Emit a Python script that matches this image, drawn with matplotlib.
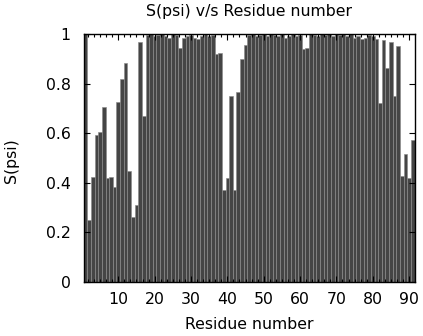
import numpy as np
import matplotlib
matplotlib.use("Agg")
import matplotlib.pyplot as plt
from matplotlib.ticker import MultipleLocator, AutoMinorLocator, FuncFormatter

plt.rcParams['font.family'] = ['DejaVu Sans']

# S(psi) order parameter per residue
residues = np.arange(1, 92)
s_psi = [
    1.0, 0.25, 0.425, 0.593, 0.606, 0.707, 0.42, 0.425, 0.382, 0.725,
    0.819, 0.884, 0.448, 0.261, 0.309, 0.969, 0.67, 0.995, 1.0, 0.99,
    0.995, 1.0, 0.99, 0.985, 1.0, 0.995, 0.945, 0.985, 0.99, 0.995,
    0.985, 0.98, 0.99, 1.0, 0.99, 0.995, 0.92, 0.925, 0.371, 0.418,
    0.75, 0.371, 0.767, 0.898, 0.956, 0.995, 1.0, 0.99, 0.995, 1.0,
    0.99, 1.0, 0.995, 0.99, 1.0, 0.985, 0.99, 1.0, 0.99, 0.995,
    0.94, 0.945, 1.0, 0.995, 0.99, 1.0, 0.995, 1.0, 0.99, 1.0,
    0.995, 1.0, 0.99, 1.0, 0.985, 0.99, 0.98, 0.985, 0.995, 0.99,
    0.98, 0.72, 0.976, 0.864, 0.967, 0.75, 0.953, 0.427, 0.516, 0.418,
    0.573,
]
y_ticks = [0, 0.2, 0.4, 0.6, 0.8, 1.0]

fs = 11.3

fig = plt.figure(figsize=(4.23, 3.36), dpi=100)
ax = fig.add_axes([0.198, 0.161, 0.782, 0.738])

ax.bar(residues, s_psi, width=1.0, color='#454545',
       edgecolor='#8c8c8c', linewidth=0.45)

ax.set_xlim(0.5, 91.5)
ax.set_ylim(0, 1)
ax.xaxis.set_major_locator(MultipleLocator(10))
ax.xaxis.set_minor_locator(AutoMinorLocator(6))
ax.set_yticks(y_ticks)
ax.yaxis.set_major_formatter(FuncFormatter(lambda v, p: '%g' % v))

ax.tick_params(which='both', direction='in', top=True, right=True,
               labelsize=fs, width=0.8, colors='black')
ax.tick_params(which='major', length=4)
ax.tick_params(which='minor', length=2)
ax.tick_params(axis='y', pad=9.5)
ax.tick_params(axis='x', pad=7)

for s in ax.spines.values():
    s.set_linewidth(1.0)

# title sits high above the frame, like the gnuplot original
fig.text(0.589, 0.967, 'S(psi) v/s Residue number', fontsize=fs,
         ha='center', va='center')
ax.set_xlabel('Residue number', fontsize=fs)
ax.xaxis.set_label_coords(0.5, -0.173)
ax.xaxis.label.set_va('center')
ax.set_ylabel('S(psi)', fontsize=fs)
ax.yaxis.set_label_coords(-0.217, 0.49)
ax.yaxis.label.set_va('center')

fig.savefig('out.png', dpi=100)
